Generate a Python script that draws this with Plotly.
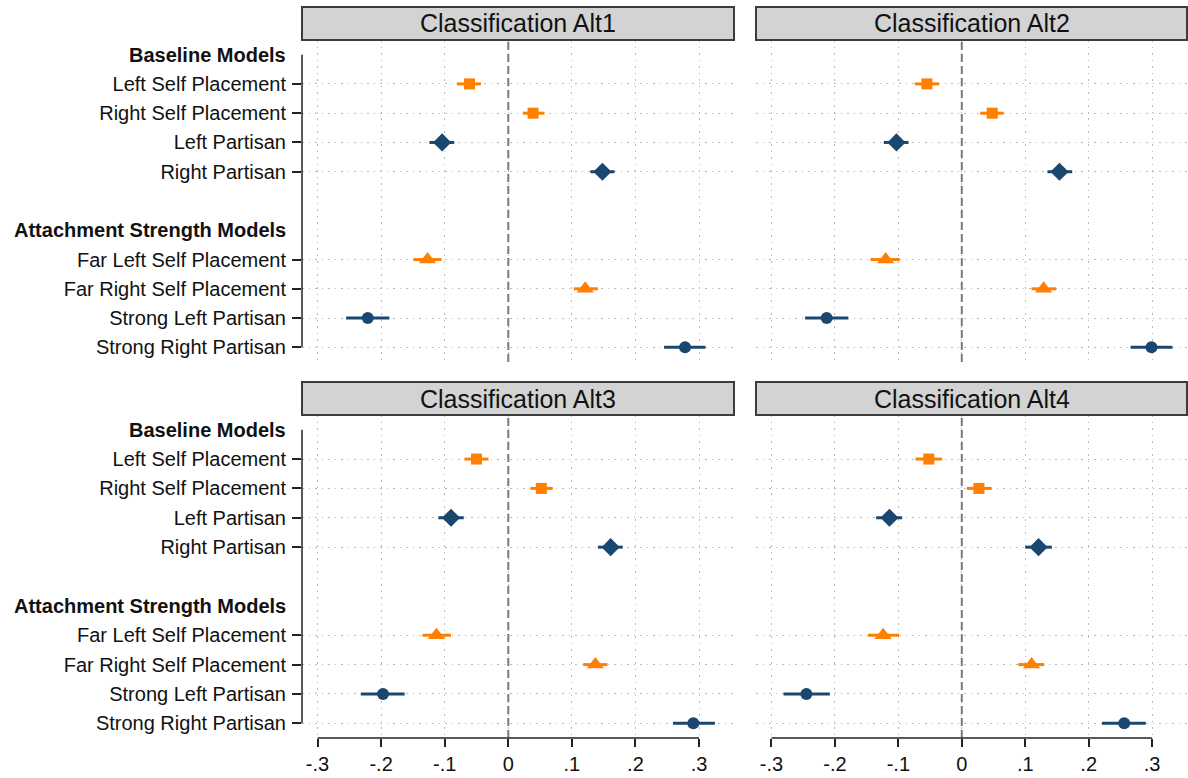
import plotly.graph_objects as go

W, H = 1188, 778

row_labels = ["Left Self Placement", "Right Self Placement", "Left Partisan", "Right Partisan",
              "Far Left Self Placement", "Far Right Self Placement", "Strong Left Partisan", "Strong Right Partisan"]
row_pos = [1, 2, 3, 4, 7, 8, 9, 10]
group_headers = ["Baseline Models", "Attachment Strength Models"]
group_pos = [0, 6]
panel_titles = ["Classification Alt1", "Classification Alt2", "Classification Alt3", "Classification Alt4"]

# estimates and 95% CI (order follows row_labels)
alt1_est = [-0.061, 0.039, -0.104, 0.148, -0.127, 0.121, -0.221, 0.278]
alt1_lo = [-0.081, 0.023, -0.124, 0.129, -0.149, 0.103, -0.255, 0.245]
alt1_hi = [-0.043, 0.057, -0.085, 0.167, -0.105, 0.141, -0.187, 0.310]

alt2_est = [-0.055, 0.048, -0.103, 0.154, -0.120, 0.129, -0.213, 0.299]
alt2_lo = [-0.074, 0.029, -0.123, 0.135, -0.144, 0.110, -0.247, 0.266]
alt2_hi = [-0.036, 0.066, -0.084, 0.174, -0.098, 0.149, -0.179, 0.332]

alt3_est = [-0.050, 0.052, -0.090, 0.161, -0.113, 0.137, -0.197, 0.291]
alt3_lo = [-0.069, 0.035, -0.110, 0.141, -0.135, 0.118, -0.232, 0.259]
alt3_hi = [-0.031, 0.070, -0.070, 0.180, -0.090, 0.156, -0.163, 0.325]

alt4_est = [-0.052, 0.027, -0.114, 0.121, -0.124, 0.110, -0.245, 0.256]
alt4_lo = [-0.073, 0.008, -0.135, 0.100, -0.148, 0.089, -0.281, 0.221]
alt4_hi = [-0.031, 0.047, -0.094, 0.142, -0.099, 0.130, -0.208, 0.290]

x_ticks = [-0.3, -0.2, -0.1, 0, 0.1, 0.2, 0.3]
x_ticktext = ["-.3", "-.2", "-.1", "0", ".1", ".2", ".3"]

ORANGE = "#FF7F00"
NAVY = "#1A476F"
# marker groups: (row indices, symbol, color, size)
groups = [
    ([0, 1], "square", ORANGE, 11),
    ([2, 3], "diamond", NAVY, 14),
    ([4, 5], "triangle-up", ORANGE, 15),
    ([6, 7], "circle", NAVY, 12),
]

panels = [
    (alt1_est, alt1_lo, alt1_hi),
    (alt2_est, alt2_lo, alt2_hi),
    (alt3_est, alt3_lo, alt3_hi),
    (alt4_est, alt4_lo, alt4_hi),
]

FONT = "Liberation Sans, Arial, sans-serif"
TXT = "#111111"
GRID = "#b8b8b8"

# pixel layout
xdom_px = [(302, 734), (756, 1187), (302, 734), (756, 1187)]
ydom_px = [(40, 362), (40, 362), (415, 738), (415, 738)]

fig = go.Figure()

for p, (est, lo, hi) in enumerate(panels):
    n = p + 1
    xa = "x" if n == 1 else f"x{n}"
    ya = "y" if n == 1 else f"y{n}"
    for idx, sym, col, sz in groups:
        xs = [est[i] for i in idx]
        ys = [row_pos[i] for i in idx]
        ep = [hi[i] - est[i] for i in idx]
        em = [est[i] - lo[i] for i in idx]
        fig.add_trace(go.Scatter(
            x=xs, y=ys, mode="markers", xaxis=xa, yaxis=ya, showlegend=False,
            marker=dict(symbol=sym, color=col, size=sz, line=dict(width=0)),
            error_x=dict(type="data", array=ep, arrayminus=em, color=col, thickness=3, width=0),
        ))

layout = dict(
    width=W, height=H,
    margin=dict(l=0, r=0, t=0, b=0),
    paper_bgcolor="white", plot_bgcolor="white",
    font=dict(family=FONT, size=20, color=TXT),
    showlegend=False,
)

shapes = []
annotations = []
for p in range(4):
    n = p + 1
    sfx = "" if n == 1 else str(n)
    x0, x1 = xdom_px[p]
    y0, y1 = ydom_px[p]
    left = p in (0, 2)
    bottom = p in (2, 3)
    layout["xaxis" + sfx] = dict(
        domain=[x0 / W, x1 / W], anchor="y" + sfx,
        range=[-0.3244, 0.355], tickvals=x_ticks, ticktext=x_ticktext,
        showticklabels=bottom, ticks="outside" if bottom else "", ticklen=8, tickwidth=1.5,
        tickcolor="#222", tickfont=dict(size=20, color=TXT),
        showgrid=True, gridcolor=GRID, griddash="1.5px,5px", gridwidth=1.2,
        zeroline=False, showline=False, fixedrange=True,
    )
    layout["yaxis" + sfx] = dict(
        domain=[1 - y1 / H, 1 - y0 / H], anchor="x" + sfx,
        range=[10.5, -0.5], tickvals=row_pos, ticktext=row_labels,
        showticklabels=left, ticks="outside" if left else "", ticklen=9, tickwidth=1.5,
        tickcolor="#222", tickfont=dict(size=20, color=TXT), ticklabelstandoff=2,
        showgrid=True, gridcolor=GRID, griddash="1.5px,5px", gridwidth=1.2,
        zeroline=False, showline=False, fixedrange=True,
    )
    # zero reference line
    shapes.append(dict(type="line", xref="x" + sfx, yref="y" + sfx + " domain",
                       x0=0, x1=0, y0=0, y1=1, line=dict(color="#7a7a7a", width=2, dash="8px,4px")))
    # header box
    hh = 33 / (y1 - y0)
    shapes.append(dict(type="rect", xref="x" + sfx + " domain", yref="y" + sfx + " domain",
                       x0=0, x1=1, y0=1, y1=1 + hh, fillcolor="#d3d3d3",
                       line=dict(color="#3c3c3c", width=2), layer="above"))
    annotations.append(dict(text=panel_titles[p], xref="x" + sfx + " domain", yref="y" + sfx + " domain",
                            x=0.5, y=1 + hh / 2, xanchor="center", yanchor="middle", showarrow=False,
                            font=dict(size=25, color=TXT, family=FONT)))
    if left:
        shapes.append(dict(type="line", xref="x" + sfx + " domain", yref="y" + sfx,
                           x0=0, x1=0, y0=0, y1=10, line=dict(color="#222", width=1.5)))
        for g, gp in zip(group_headers, group_pos):
            annotations.append(dict(text="<b>" + g + "</b>", xref="x" + sfx + " domain", yref="y" + sfx,
                                    x=0, y=gp, xanchor="right", yanchor="middle", showarrow=False,
                                    xshift=-14, font=dict(size=20, color=TXT, family=FONT)))
    if bottom:
        shapes.append(dict(type="line", xref="x" + sfx, yref="y" + sfx + " domain",
                           x0=-0.3, x1=0.3, y0=0, y1=0, line=dict(color="#222", width=1.5)))

layout["shapes"] = shapes
layout["annotations"] = annotations
fig.update_layout(**layout)

fig.write_html("out.html")
